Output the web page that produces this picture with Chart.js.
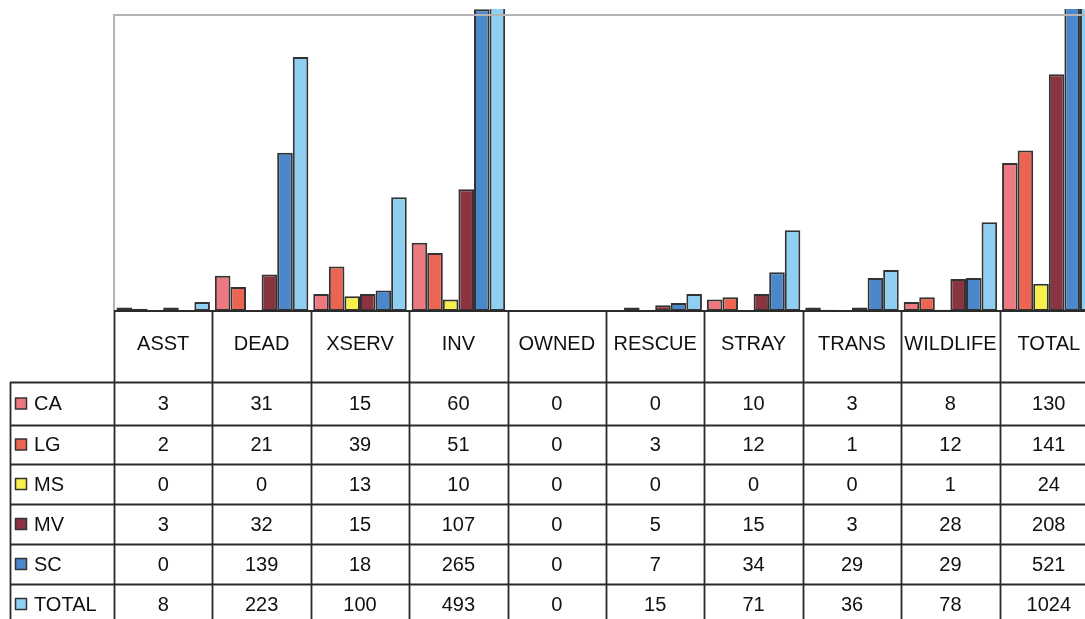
<!DOCTYPE html>
<html>
<head>
<meta charset="utf-8">
<script src="https://cdn.jsdelivr.net/npm/chart.js@4/dist/chart.umd.min.js"></script>
<style>
  html, body { margin: 0; padding: 0; background: #fff; overflow: hidden; }
  canvas { display: block; }
</style>
</head>
<body>
<canvas id="chart" width="1100" height="619"></canvas>
<script>
const categories = ['ASST', 'DEAD', 'XSERV', 'INV', 'OWNED', 'RESCUE', 'STRAY', 'TRANS', 'WILDLIFE', 'TOTAL'];
const seriesNames = ['CA', 'LG', 'MS', 'MV', 'SC', 'TOTAL'];
const caValues = [3, 31, 15, 60, 0, 0, 10, 3, 8, 130];
const lgValues = [2, 21, 39, 51, 0, 3, 12, 1, 12, 141];
const msValues = [0, 0, 13, 10, 0, 0, 0, 0, 1, 24];
const mvValues = [3, 32, 15, 107, 0, 5, 15, 3, 28, 208];
const scValues = [0, 139, 18, 265, 0, 7, 34, 29, 29, 521];
const totalValues = [8, 223, 100, 493, 0, 15, 71, 36, 78, 1024];
const yMax = 260;

const seriesValues = [caValues, lgValues, msValues, mvValues, scValues, totalValues];
const seriesColors = ['#ee7880', '#ec6552', '#f7ef4c', '#8b3441', '#4a87cb', '#8ecff2'];

// row borders of the data table (pixels)
const headerBottom = 382;
const rowLines = [382, 425, 464, 504, 544, 584, 624];
const font = '20px "Liberation Sans", Arial, sans-serif';

const tablePlugin = {
  id: 'dataTable',
  afterDraw(chart) {
    const ctx = chart.ctx;
    const area = chart.chartArea;
    const x = chart.scales.x;
    const colW = (area.right - area.left) / categories.length;
    ctx.save();

    // plot frame (grey, top + left)
    ctx.strokeStyle = '#b4b4b4';
    ctx.lineWidth = 2;
    ctx.beginPath();
    ctx.moveTo(area.left, area.bottom);
    ctx.lineTo(area.left, area.top);
    ctx.lineTo(area.right, area.top);
    ctx.stroke();

    // table grid
    ctx.strokeStyle = '#2a2a2a';
    ctx.lineWidth = 1.8;
    ctx.beginPath();
    ctx.moveTo(area.left, area.bottom);
    ctx.lineTo(area.right, area.bottom);
    for (let i = 0; i <= categories.length; i++) {
      const cx = Math.round(area.left + i * colW) + 0.5;
      ctx.moveTo(cx, area.bottom);
      ctx.lineTo(cx, 619);
    }
    ctx.moveTo(10.5, headerBottom);
    ctx.lineTo(10.5, 619);
    rowLines.forEach(y => {
      ctx.moveTo(10, y + 0.5);
      ctx.lineTo(area.right, y + 0.5);
    });
    ctx.stroke();

    ctx.fillStyle = '#111';
    ctx.font = font;
    ctx.textBaseline = 'middle';
    ctx.textAlign = 'center';
    categories.forEach((c, i) => {
      ctx.fillText(c, x.getPixelForValue(i), 344);
    });

    seriesNames.forEach((name, r) => {
      const cy = (rowLines[r] + rowLines[r + 1]) / 2 + 1;
      // legend key
      ctx.fillStyle = seriesColors[r];
      ctx.fillRect(15.5, cy - 6.5, 11, 11);
      ctx.strokeStyle = '#333';
      ctx.lineWidth = 1.5;
      ctx.strokeRect(15.5, cy - 6.5, 11, 11);
      ctx.fillStyle = '#111';
      ctx.textAlign = 'left';
      ctx.fillText(name, 34, cy);
      ctx.textAlign = 'center';
      seriesValues[r].forEach((v, i) => {
        ctx.fillText(String(v), x.getPixelForValue(i), cy);
      });
    });
    ctx.restore();
  }
};

const datasets = seriesNames.map((name, i) => ({
  label: name,
  data: seriesValues[i],
  backgroundColor: seriesColors[i],
  borderColor: '#333',
  borderWidth: 2,
  borderSkipped: false,
  categoryPercentage: 0.95,
  barPercentage: 1,
  clip: { left: 0, top: 6, right: 0, bottom: 0 }
}));

const chart = new Chart(document.getElementById('chart'), {
  type: 'bar',
  data: { labels: categories, datasets: datasets },
  options: {
    responsive: false,
    animation: false,
    layout: { padding: { left: 114, right: 2, top: 15, bottom: 308 } },
    plugins: {
      legend: { display: false },
      tooltip: { enabled: false }
    },
    scales: {
      x: { display: false },
      y: { display: false, min: 0, max: yMax }
    }
  },
  plugins: [tablePlugin]
});
</script>
</body>
</html>
